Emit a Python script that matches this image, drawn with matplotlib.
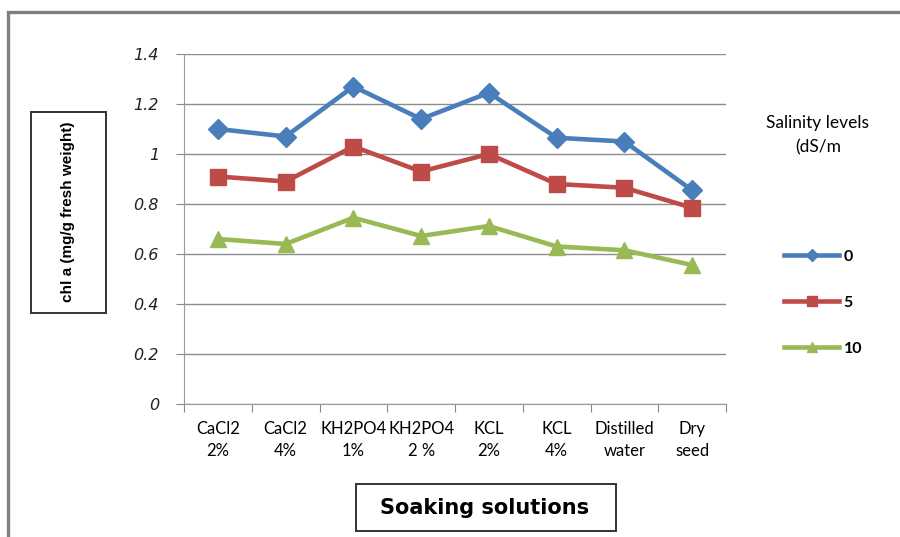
import matplotlib.pyplot as plt
from matplotlib.patches import Rectangle

solutions = ["CaCl2\n2%", "CaCl2\n4%", "KH2PO4\n1%", "KH2PO4\n2 %", "KCL\n2%",
             "KCL\n4%", "Distilled\nwater", "Dry\nseed"]
salinity = ["0", "5", "10"]
chl_0 = [1.10, 1.07, 1.27, 1.14, 1.245, 1.065, 1.05, 0.855]
chl_5 = [0.91, 0.89, 1.03, 0.93, 1.00, 0.88, 0.865, 0.785]
chl_10 = [0.66, 0.64, 0.745, 0.672, 0.712, 0.63, 0.615, 0.556]

colors = ["#4A7EBB", "#BE4B48", "#98B954"]
markers = ["D", "s", "^"]
sizes = [10, 12, 12]

W, H = 900, 537
fig = plt.figure(figsize=(9, 5.37), dpi=100)
ax = fig.add_axes([184 / W, 1 - 404 / H, (726 - 184) / W, (404 - 54) / H])

x = range(len(solutions))
handles = []
for vals, c, m, s, lab in zip([chl_0, chl_5, chl_10], colors, markers, sizes, salinity):
    ln, = ax.plot(x, vals, color=c, lw=3.3, marker=m, ms=s, mec=c, mfc=c,
                  label=lab, zorder=3)
    handles.append(ln)

ax.set_xlim(-0.5, len(solutions) - 0.5)
ax.set_ylim(0, 1.4)
ax.set_yticks([0, 0.2, 0.4, 0.6, 0.8, 1, 1.2, 1.4])
ax.set_yticklabels(["0", "0.2", "0.4", "0.6", "0.8", "1", "1.2", "1.4"],
                   fontstyle="italic", fontsize=11.5, color="#222222")
ax.set_xticks([i - 0.5 for i in range(len(solutions) + 1)])
ax.set_xticklabels([])
ax.set_xticks(list(x), minor=True)
ax.set_xticklabels(solutions, minor=True, fontsize=12, family="Lato",
                   linespacing=1.45)
ax.tick_params(axis="x", which="minor", length=0, pad=12)
ax.tick_params(axis="x", which="major", length=6, color="#888888")
ax.tick_params(axis="y", length=6, color="#888888", pad=12)

ax.grid(axis="y", color="#8c8c8c", lw=1)
ax.set_axisbelow(True)
for side in ["top", "right"]:
    ax.spines[side].set_visible(False)
for side in ["left", "bottom"]:
    ax.spines[side].set_color("#999999")

# outer chart border
fig.patches.append(Rectangle((8 / W, -0.1), 1.1, 1 - 12 / H + 0.1,
                             transform=fig.transFigure, fill=False,
                             ec="#7f7f7f", lw=2.4))


def px_box(x0, y0, x1, y1):
    fig.patches.append(Rectangle((x0 / W, 1 - y1 / H), (x1 - x0) / W, (y1 - y0) / H,
                                 transform=fig.transFigure, fc="white",
                                 ec="#333333", lw=1.4, zorder=2))


# boxed axis titles
px_box(31, 112, 106, 313)
fig.text(68 / W, 1 - 212 / H, "chl a (mg/g fresh weight)", rotation=90,
         ha="center", va="center", fontsize=11, fontweight="bold",
         family="Liberation Sans", zorder=3)
px_box(356, 484, 616, 531)
fig.text(485 / W, 1 - 508 / H, "Soaking solutions", ha="center", va="center",
         fontsize=15, fontweight="bold", family="DejaVu Sans", zorder=3)

# legend
fig.text(818 / W, 1 - 135 / H, "Salinity levels\n(dS/m", ha="center",
         va="center", fontsize=12.5, family="Lato", linespacing=1.65)
fig.legend(handles=handles, labels=salinity, loc="upper left",
           bbox_to_anchor=(770 / W, 1 - 235 / H), frameon=False,
           handlelength=3.4, handletextpad=0.3,
           labelspacing=2.0, markerscale=0.6,
           prop=dict(family="Lato", weight="bold", size=11.5))

fig.savefig("out.png", dpi=100)
